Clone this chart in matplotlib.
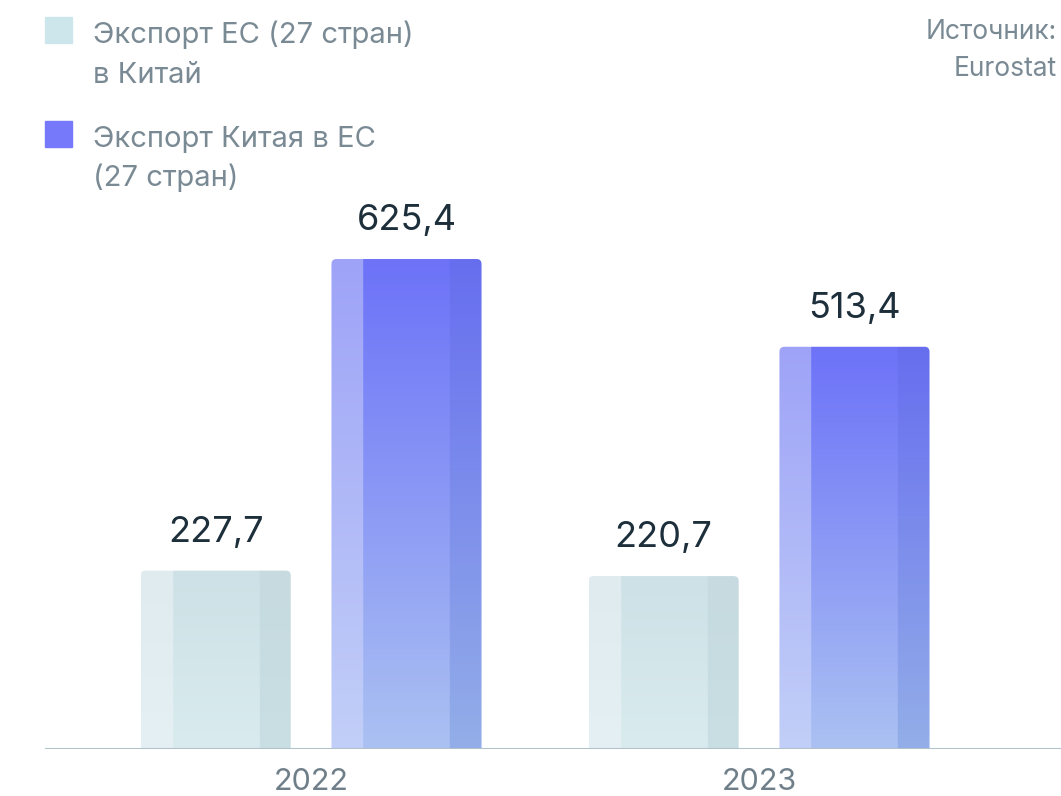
import numpy as np
import matplotlib.pyplot as plt
from matplotlib.patches import FancyBboxPatch, Rectangle
from matplotlib.colors import to_rgb

plt.rcParams['font.family'] = ['Inter', 'DejaVu Sans']

years = ['2022', '2023']
eu_to_china = [227.7, 220.7]
china_to_eu = [625.4, 513.4]
series_names = [['Экспорт ЕС (27 стран)', 'в Китай'], ['Экспорт Китая в ЕС', '(27 стран)']]
value_labels_eu = ['227,7', '220,7']
value_labels_cn = ['625,4', '513,4']
source_lines = ['Источник:', 'Eurostat']

# strip colours: (left, middle, right) at top and at bottom
light_top = ['#dfebee', '#cde1e6', '#c6dadf']
light_bot = ['#e4f0f3', '#d9ebee', '#c9dfe3']
purple_top = ['#9ea3f8', '#6d72f8', '#676eef']
purple_bot = ['#c2cff7', '#abc1f2', '#93aee8']

fig = plt.figure(figsize=(10.61, 7.96), dpi=100)
ax = fig.add_axes([45 / 1061, 47 / 796, 1016 / 1061, 749 / 796])
ax.set_xlim(-0.594, 1.674)
ax.set_ylim(0, 956)
ax.axis('off')

x = np.arange(len(years))
w = 0.335
off = 0.213
b1 = ax.bar(x - off, eu_to_china, w, color='none')
b2 = ax.bar(x + off, china_to_eu, w, color='none')

def gradient(top, bot, n=200):
    ratios = [32, 86, 32]
    cols = []
    for t, b, r in zip(top, bot, ratios):
        t, b = np.array(to_rgb(t)), np.array(to_rgb(b))
        f = np.linspace(0, 1, n)[:, None]
        strip = t * (1 - f) + b * f
        cols.append(np.repeat(strip[:, None, :], r, axis=1))
    return np.concatenate(cols, axis=1)

fig.canvas.draw()
for bars, top, bot in [(b1, light_top, light_bot), (b2, purple_top, purple_bot)]:
    img = gradient(top, bot)
    for bar in bars:
        x0, y0 = bar.get_x(), bar.get_y()
        bw, bh = bar.get_width(), bar.get_height()
        ext = bar.get_window_extent()
        clip = FancyBboxPatch((ext.x0, ext.y0 - 10), ext.width, ext.height + 10,
                              boxstyle='round,pad=0,rounding_size=5',
                              transform=None, facecolor='none', edgecolor='none')
        ax.add_artist(clip)
        im = ax.imshow(img, extent=(x0, x0 + bw, y0, y0 + bh), aspect='auto',
                       interpolation='bilinear', zorder=2)
        im.set_clip_path(clip)

for bars, labels in [(b1, value_labels_eu), (b2, value_labels_cn)]:
    for bar, lab in zip(bars, labels):
        ax.text(bar.get_x() + bar.get_width() / 2, bar.get_height() + 37, lab,
                ha='center', va='baseline', fontsize=26, color='#1e2f3c')

ax.axhline(0, color='#b0c1ca', lw=2.2, zorder=3)
for xi, yr in zip(x, years):
    ax.text(xi, -52, yr, ha='center', va='baseline', fontsize=22, color='#6f7f89')

# legend
leg_colors = ['#cde6ec', '#7579fa']
baselines = [[43, 83], [147, 186]]
for i, (lines, c, bl) in enumerate(zip(series_names, leg_colors, baselines)):
    ytop = 17 + i * 104
    fig.patches.append(Rectangle((45 / 1061, 1 - (ytop + 26) / 796), 27 / 1061, 26 / 796,
                                 transform=fig.transFigure, color=c))
    for line, yb in zip(lines, bl):
        fig.text(93 / 1061, 1 - yb / 796, line, ha='left', va='baseline',
                 fontsize=21, color='#7a8a94')

for line, yb in zip(source_lines, [39, 76]):
    fig.text(1057 / 1061, 1 - yb / 796, line, ha='right', va='baseline',
             fontsize=19, color='#7a8a94')

plt.savefig('out.png', dpi=100)
